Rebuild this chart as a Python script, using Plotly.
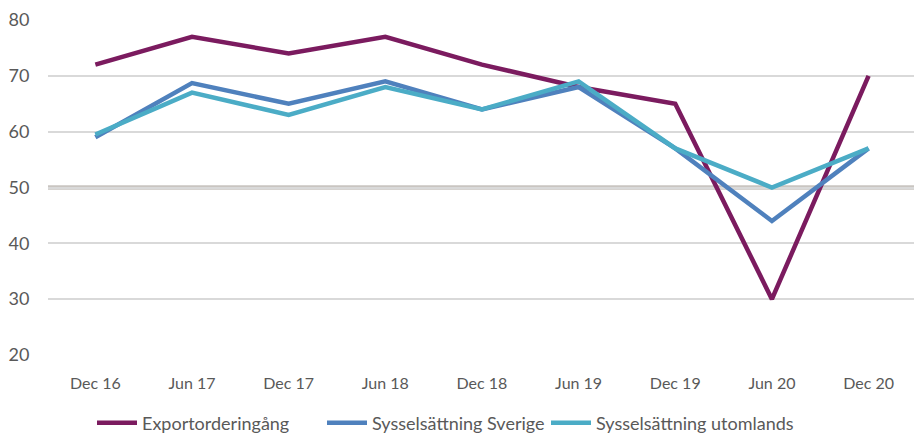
import plotly.graph_objects as go

categories = ["Dec 16", "Jun 17", "Dec 17", "Jun 18", "Dec 18", "Jun 19", "Dec 19", "Jun 20", "Dec 20"]
export_orders = [72, 77, 74, 77, 72, 68, 65, 30, 70]
emp_sweden = [59, 68.7, 65, 69, 64, 68, 57, 44, 57]
emp_abroad = [59.5, 67, 63, 68, 64, 69, 57, 50, 57]
threshold = 50
y_ticks = [20, 30, 40, 50, 60, 70, 80]

series = [
    ("Exportorderingång", export_orders, "#7B1B5F", "legend", 92),
    ("Sysselsättning Sverige", emp_sweden, "#4F81BD", "legend2", 322),
    ("Sysselsättning utomlands", emp_abroad, "#4BACC6", "legend3", 546),
]

fig = go.Figure()
legends = {}
for name, vals, color, leg, lx in series:
    fig.add_trace(go.Scatter(x=categories, y=vals, name=name, mode="lines",
                             line=dict(color=color, width=4.5), legend=leg))
    legends[leg] = dict(orientation="h", xref="container", x=lx / 914, xanchor="left",
                        yref="container", y=1 - 423 / 433, yanchor="middle",
                        font=dict(size=18), itemwidth=40, bgcolor="rgba(0,0,0,0)")

fig.add_shape(type="line", xref="paper", x0=0, x1=1, yref="y", y0=threshold, y1=threshold,
              line=dict(color="#C9C5C1", width=4.5), layer="between")

fig.update_layout(
    width=914, height=433,
    margin=dict(l=48, r=0, t=20, b=78),
    paper_bgcolor="white", plot_bgcolor="white",
    font=dict(family="Lato, sans-serif", color="#595959", size=16),
    showlegend=True,
    xaxis=dict(type="category", showgrid=False, showline=False, zeroline=False,
               tickfont=dict(size=16), ticks="outside", ticklen=14, tickcolor="rgba(0,0,0,0)",
               range=[-0.49, 8.47]),
    yaxis=dict(range=[20, 80], tickvals=y_ticks, showgrid=True, gridcolor="#D9D9D9", gridwidth=1.5,
               zeroline=False, showline=False, tickfont=dict(size=18),
               ticks="outside", ticklen=14, tickcolor="rgba(0,0,0,0)"),
    **legends,
)

fig.write_html("out.html", config={"displayModeBar": False},
               post_script="document.body.style.margin='0';")
